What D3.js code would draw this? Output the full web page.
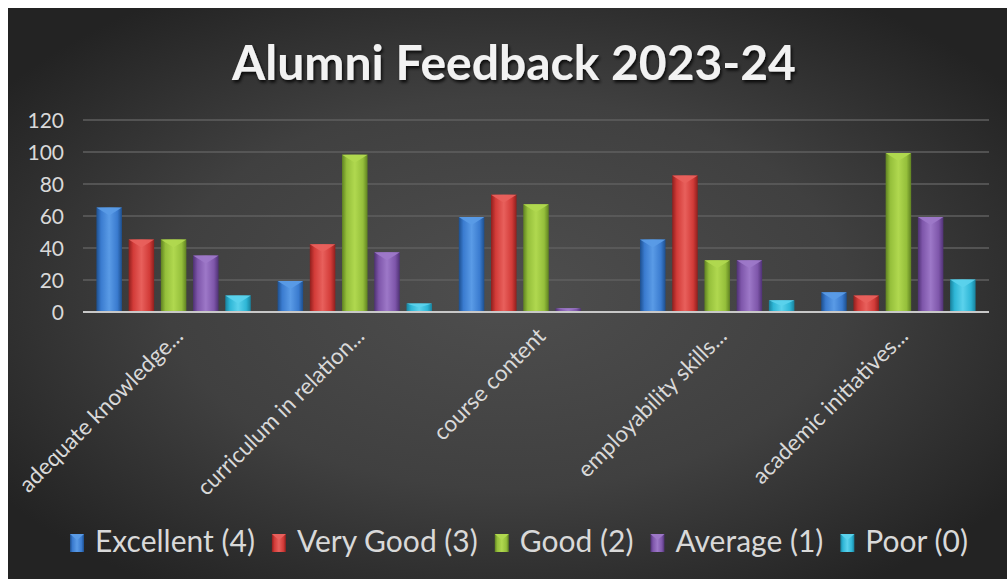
<!DOCTYPE html>
<html>
<head>
<meta charset="utf-8">
<script src="https://cdn.jsdelivr.net/npm/d3@7"></script>
<style>
  html, body { margin:0; padding:0; background:#fff; }
  svg { display:block; }
  text { font-family: Lato, "Open Sans", sans-serif; }
</style>
</head>
<body>
<svg></svg>
<script>
var width = 1007;
var height = 579;

var categories = ["adequate knowledge...", "curriculum in relation...", "course content", "employability skills...", "academic initiatives..."];
var seriesNames = ["Excellent (4)", "Very Good (3)", "Good (2)", "Average (1)", "Poor (0)"];
var excellent = [65, 19, 59, 45, 12];
var veryGood  = [45, 42, 73, 85, 10];
var good      = [45, 98, 67, 32, 99];
var average   = [35, 37, 2, 32, 59];
var poor      = [10, 5, 0, 7, 20];
var yTicks = [0, 20, 40, 60, 80, 100, 120];

var seriesValues = [excellent, veryGood, good, average, poor];
// base, light, dark
var palette = [
  ["#3a7bcf", "#5a9be6", "#1d4f8e"],
  ["#d23b38", "#e8605c", "#8f1f1d"],
  ["#95bf3b", "#b0d84f", "#5f8221"],
  ["#7e56aa", "#9d78c8", "#4f3175"],
  ["#2eb6d6", "#5bd2ec", "#18819c"]
];

var svg = d3.select("svg").attr("width", width).attr("height", height);
var defs = svg.append("defs");

var bg = defs.append("radialGradient").attr("id", "bg")
  .attr("cx", 0.5).attr("cy", 0.5).attr("r", 0.62);
bg.append("stop").attr("offset", "0%").attr("stop-color", "#4e4e4e");
bg.append("stop").attr("offset", "55%").attr("stop-color", "#404040");
bg.append("stop").attr("offset", "100%").attr("stop-color", "#232323");

palette.forEach(function(c, i){
  var g = defs.append("linearGradient").attr("id", "bar" + i)
    .attr("x1", 0).attr("x2", 1).attr("y1", 0).attr("y2", 0);
  g.append("stop").attr("offset", "0%").attr("stop-color", c[2]);
  g.append("stop").attr("offset", "18%").attr("stop-color", c[0]);
  g.append("stop").attr("offset", "50%").attr("stop-color", c[1]);
  g.append("stop").attr("offset", "82%").attr("stop-color", c[0]);
  g.append("stop").attr("offset", "100%").attr("stop-color", c[2]);
});

var shadow = defs.append("filter").attr("id", "tshadow")
  .attr("x", "-10%").attr("y", "-20%").attr("width", "120%").attr("height", "150%");
shadow.append("feDropShadow").attr("dx", 1.5).attr("dy", 2.5).attr("stdDeviation", 1.5)
  .attr("flood-color", "#000").attr("flood-opacity", 0.8);

svg.append("rect").attr("x", 8).attr("y", 8)
  .attr("width", width - 8).attr("height", height - 8)
  .attr("fill", "url(#bg)");

// title
svg.append("text")
  .attr("x", 514).attr("y", 80)
  .attr("text-anchor", "middle")
  .attr("font-size", 48).attr("font-weight", "bold")
  .attr("fill", "#f2f2f2")
  .attr("filter", "url(#tshadow)")
  .text("Alumni Feedback 2023-24");

var x0 = d3.scaleBand().domain(categories).range([83, 989])
  .paddingInner(0.148).paddingOuter(0.074);
var x1 = d3.scaleBand().domain(d3.range(seriesNames.length))
  .range([0, x0.bandwidth()]).paddingInner(0.208);
var y = d3.scaleLinear().domain([0, 120]).range([311.5, 119.5]);

// grid
var yAxis = d3.axisLeft(y).tickValues(yTicks).tickSize(-(989 - 83)).tickPadding(19);
var ya = svg.append("g").attr("transform", "translate(83,0)").call(yAxis);
ya.select(".domain").remove();
ya.selectAll(".tick line").attr("stroke", "#5f5f5f").attr("stroke-width", 1.3);
ya.selectAll(".tick text").attr("fill", "#d9d9d9").attr("font-size", 21)
  .attr("font-family", "Lato, sans-serif").attr("dy", "0.36em");
ya.selectAll(".tick").filter(function(d){ return d === 0; }).select("line").remove();

// bars
var groups = svg.append("g").selectAll("g")
  .data(categories)
  .join("g")
  .attr("transform", function(d){ return "translate(" + x0(d) + ",0)"; });

var bars = groups.selectAll("g.bar")
  .data(function(d, ci){
    return seriesValues.map(function(vals, si){ return {s: si, v: vals[ci]}; });
  })
  .join("g").attr("class", "bar");

bars.append("rect")
  .attr("x", function(d){ return x1(d.s); })
  .attr("y", function(d){ return y(d.v); })
  .attr("width", x1.bandwidth())
  .attr("height", function(d){ return y(0) - y(d.v); })
  .attr("fill", function(d){ return "url(#bar" + d.s + ")"; });

bars.filter(function(d){ return d.v > 0; }).append("path")
  .attr("d", function(d){
    var bx = x1(d.s), bw = x1.bandwidth(), by = y(d.v);
    var h = Math.min(8, (y(0) - by) / 2);
    return "M" + bx + "," + by + "L" + (bx + bw) + "," + by +
      "L" + (bx + bw / 2) + "," + (by + h) + "Z";
  })
  .attr("fill", function(d){ return palette[d.s][1]; })
  .attr("opacity", 0.95);

// baseline
svg.append("line")
  .attr("x1", 83).attr("x2", 989)
  .attr("y1", y(0) + 0.5).attr("y2", y(0) + 0.5)
  .attr("stroke", "#c8c8c8").attr("stroke-width", 2.2);

// category labels
svg.append("g").selectAll("text")
  .data(categories)
  .join("text")
  .attr("transform", function(d){
    return "translate(" + (x0(d) + x0.bandwidth() / 2 + 11) + "," + (y(0) + 26) + ") rotate(-45)";
  })
  .attr("text-anchor", "end")
  .attr("font-size", 22.5)
  .attr("fill", "#d9d9d9")
  .text(function(d){ return d; });

// legend
var legend = svg.append("g");
var items = legend.selectAll("g").data(seriesNames).join("g");
items.append("rect").attr("x", 0).attr("y", -18).attr("width", 14).attr("height", 18)
  .attr("fill", function(d, i){ return "url(#bar" + i + ")"; });
items.append("path").attr("d", "M0,-18L14,-18L7,-12Z")
  .attr("fill", function(d, i){ return palette[i][1]; });
items.append("text").attr("x", 25).attr("y", 0)
  .attr("font-size", 30).attr("fill", "#d9d9d9")
  .text(function(d){ return d; });

var pos = 0;
items.each(function(d){
  var w = this.querySelector("text").getComputedTextLength();
  d3.select(this).attr("transform", "translate(" + pos + ",552)");
  pos += 25 + w + 17;
});
var total = pos - 17;
legend.attr("transform", "translate(" + (519 - total / 2) + ",0)");
</script>
</body>
</html>
